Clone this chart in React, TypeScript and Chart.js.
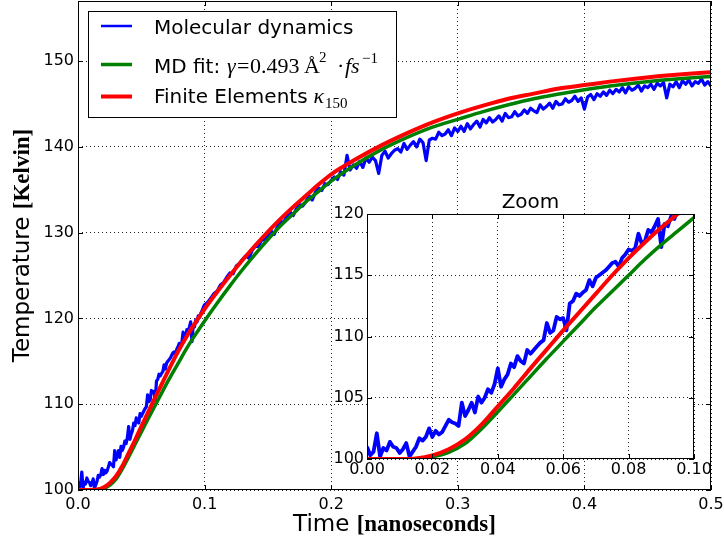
import { useEffect, useRef } from 'react';
import { Chart, registerables } from 'chart.js';
Chart.register(...registerables);

// ---------- data ----------
// MD samples: every 0.001 ns up to 0.1 ns, then every 0.0025 ns up to 0.5 ns
const MD_FINE_STEP = 0.001;
const MD_FINE_END = 0.1;
const MD_COARSE_STEP = 0.0025;
const MD_TEMPERATURE_FINE = [
  101.0, 100.3, 100.6, 102.1, 100.2, 100.9, 100.7, 101.4, 101.0, 100.9,
  100.5, 100.8, 101.3, 100.2, 100.6, 101.0, 101.7, 101.5, 101.8, 102.5,
  101.8, 102.3, 102.0, 102.2, 102.7, 103.2, 103.0, 102.9, 102.7, 104.6,
  103.5, 104.0, 104.6, 103.8, 105.1, 104.6, 105.0, 105.7, 105.4, 106.1,
  107.4, 105.9, 106.5, 106.9, 107.8, 107.5, 108.4, 108.0, 107.8, 108.9,
  108.6, 108.9, 109.2, 109.5, 109.7, 111.1, 110.3, 110.5, 111.6, 111.4,
  111.5, 110.5, 112.7, 112.9, 113.5, 113.3, 113.6, 113.8, 114.6, 114.1,
  114.8, 115.0, 115.2, 115.4, 115.7, 116.0, 116.1, 115.7, 116.4, 116.7,
  117.1, 117.0, 117.2, 118.4, 117.6, 117.8, 118.7, 118.5, 119.0, 119.6,
  117.3, 119.2, 119.0, 119.8, 119.6, 120.3, 120.1, 120.6, 120.9, 121.3,
  121.6,
];
const MD_TEMPERATURE_COARSE = [
  121.9, 122.4, 122.9, 123.2, 123.9, 124.2, 124.8, 125.3,
  125.2, 126.1, 126.4, 126.9, 127.3, 127.0, 127.9, 128.4,
  128.4, 129.1, 129.2, 129.7, 130.2, 129.8, 130.7, 131.3,
  131.2, 131.9, 132.4, 132.0, 132.8, 133.3, 133.1, 133.6,
  134.3, 133.8, 134.7, 135.2, 134.9, 135.7, 135.6, 136.1,
  136.5, 136.2, 137.1, 136.7, 139.0, 137.3, 137.9, 137.5,
  138.3, 137.6, 138.7, 138.2, 138.8, 138.4, 136.9, 139.0,
  139.5, 138.7, 139.2, 139.6, 139.8, 139.4, 140.4, 139.7,
  140.2, 140.6, 140.0, 140.9, 140.5, 138.4, 140.8, 141.0,
  140.9, 141.7, 141.3, 141.5, 142.0, 141.3, 142.2, 141.8,
  142.4, 141.8, 142.7, 142.1, 142.6, 143.0, 142.3, 143.2,
  142.8, 143.4, 142.9, 143.2, 143.6, 143.0, 143.9, 143.4,
  143.5, 144.1, 143.6, 143.8, 144.3, 143.9, 144.5, 144.2,
  144.0, 144.9, 144.4, 144.7, 145.1, 144.5, 145.3, 144.9,
  145.0, 145.6, 145.2, 145.4, 145.9, 145.3, 145.7, 144.4,
  145.8, 146.1, 145.5, 146.2, 145.9, 146.4, 146.0, 146.6,
  146.2, 146.7, 146.4, 146.9, 146.3, 147.0, 146.6, 146.8,
  147.2, 146.5, 147.1, 146.9, 147.3, 146.7, 147.4, 147.1,
  147.5, 145.7, 147.3, 147.0, 147.6, 146.9, 147.7, 147.3,
  147.8, 147.1, 147.6, 147.4, 147.9, 147.2, 147.6, 147.1,
];

const CURVE_TIME = [
  0, 0.005, 0.01, 0.015, 0.02, 0.025, 0.03, 0.035, 0.04, 0.045, 0.05,
  0.055, 0.06, 0.065, 0.07, 0.075, 0.08, 0.085, 0.09, 0.095, 0.1,
  0.11, 0.12, 0.13, 0.14, 0.15, 0.16, 0.17, 0.18, 0.19, 0.2,
  0.22, 0.24, 0.26, 0.28, 0.3, 0.32, 0.34, 0.36, 0.38, 0.4,
  0.42, 0.44, 0.46, 0.48, 0.5,
];
const FIT_TEMPERATURE = [
  100, 100, 100, 100.02, 100.18, 100.55, 101.25, 102.45, 103.85, 105.3, 106.75,
  108.2, 109.6, 111.0, 112.4, 113.7, 115.0, 116.3, 117.5, 118.6, 119.7,
  121.8, 123.8, 125.7, 127.5, 129.2, 130.8, 132.2, 133.6, 134.8, 136.0,
  138.0, 139.7, 141.1, 142.3, 143.2, 144.1, 144.9, 145.6, 146.15, 146.65,
  147.1, 147.45, 147.75, 148.0, 148.2,
];
const FE_TEMPERATURE = [
  100, 100, 100, 100.05, 100.3, 100.8, 101.6, 102.8, 104.3, 105.8, 107.4,
  108.95, 110.5, 112.0, 113.5, 115.0, 116.4, 117.7, 118.9, 120.0, 121.1,
  123.1, 125.0, 126.8, 128.5, 130.1, 131.6, 133.0, 134.3, 135.6, 136.8,
  138.6, 140.2, 141.6, 142.85, 143.9, 144.8, 145.6, 146.2, 146.8, 147.2,
  147.6, 147.95, 148.25, 148.5, 148.7,
];

const MAIN_X_TICKS = [0, 0.1, 0.2, 0.3, 0.4, 0.5];
const MAIN_X_LABELS = ['0.0', '0.1', '0.2', '0.3', '0.4', '0.5'];
const MAIN_Y_TICKS = [100, 110, 120, 130, 140, 150];
const MAIN_Y_LABELS = ['100', '110', '120', '130', '140', '150'];
const INSET_X_TICKS = [0, 0.02, 0.04, 0.06, 0.08, 0.1];
const INSET_X_LABELS = ['0.00', '0.02', '0.04', '0.06', '0.08', '0.10'];
const INSET_Y_TICKS = [100, 105, 110, 115, 120];
const INSET_Y_LABELS = ['100', '105', '110', '115', '120'];

const SERIES_NAMES = ['Molecular dynamics', 'MD fit', 'Finite Elements'];

// ---------- helpers ----------
const SANS = "'DejaVu Sans', sans-serif";
const SERIF = "'Liberation Serif', 'DejaVu Serif', serif";

const mdPoints = () => [
  ...MD_TEMPERATURE_FINE.map((v, i) => ({ x: i * MD_FINE_STEP, y: v })),
  ...MD_TEMPERATURE_COARSE.map((v, i) => ({ x: MD_FINE_END + (i + 1) * MD_COARSE_STEP, y: v })),
];
const curvePoints = (vals: number[]) => vals.map((v, i) => ({ x: CURVE_TIME[i], y: v }));

function makeDatasets(blueWidth: number) {
  return [
    {
      label: SERIES_NAMES[0],
      data: mdPoints(),
      borderColor: '#0000ff',
      borderWidth: blueWidth,
      pointRadius: 0,
      tension: 0,
      borderJoinStyle: 'round' as const,
      order: 3,
    },
    {
      label: SERIES_NAMES[1],
      data: curvePoints(FIT_TEMPERATURE),
      borderColor: '#008000',
      borderWidth: 3.5,
      pointRadius: 0,
      cubicInterpolationMode: 'monotone' as const,
      order: 2,
    },
    {
      label: SERIES_NAMES[2],
      data: curvePoints(FE_TEMPERATURE),
      borderColor: '#ff0000',
      borderWidth: 4,
      pointRadius: 0,
      cubicInterpolationMode: 'monotone' as const,
      order: 1,
    },
  ];
}

const frameTicksPlugin = (len: number) => ({
  id: 'frameTicks',
  afterDatasetsDraw(chart: any) {
    const { ctx, chartArea: a, scales } = chart;
    const x = scales.x;
    const y = scales.y;
    ctx.save();
    ctx.strokeStyle = '#000';
    ctx.lineWidth = 1;
    ctx.setLineDash([]);
    ctx.beginPath();
    x.ticks.forEach((t: any) => {
      const px = Math.round(x.getPixelForValue(t.value)) + 0.5;
      ctx.moveTo(px, a.bottom);
      ctx.lineTo(px, a.bottom - len);
      ctx.moveTo(px, a.top);
      ctx.lineTo(px, a.top + len);
    });
    y.ticks.forEach((t: any) => {
      const py = Math.round(y.getPixelForValue(t.value)) + 0.5;
      ctx.moveTo(a.left, py);
      ctx.lineTo(a.left + len, py);
      ctx.moveTo(a.right, py);
      ctx.lineTo(a.right - len, py);
    });
    ctx.stroke();
    ctx.strokeRect(a.left + 0.5, a.top + 0.5, a.right - a.left - 1, a.bottom - a.top - 1);
    ctx.restore();
  },
});

function scaleOptions(
  ticks: number[],
  labels: string[],
  min: number,
  max: number,
  size: number,
  isX: boolean,
  pad: number,
) {
  return {
    type: 'linear' as const,
    min,
    max,
    afterBuildTicks: (s: any) => {
      s.ticks = ticks.map((v) => ({ value: v }));
    },
    afterFit: (s: any) => {
      if (isX) s.height = size;
      else s.width = size;
      s.paddingLeft = 0;
      s.paddingRight = 0;
      s.paddingTop = 0;
      s.paddingBottom = 0;
    },
    ticks: {
      autoSkip: false,
      maxRotation: 0,
      padding: pad,
      color: '#000',
      font: { family: SANS, size: 16 },
      callback: (_v: any, i: number) => labels[i],
    },
    grid: {
      color: 'rgba(0,0,0,0.85)',
      lineWidth: 1,
      drawTicks: false,
    },
    border: { display: false, dash: [1, 3] },
  };
}

const mainDecorPlugin = {
  id: 'mainDecor',
  afterDraw(chart: any) {
    const { ctx, chartArea: a } = chart;
    ctx.save();
    ctx.fillStyle = '#000';
    ctx.textBaseline = 'alphabetic';
    ctx.textAlign = 'left';

    // x axis title
    const xt1 = 'Time ';
    const xt2 = '[nanoseconds]';
    ctx.font = `23px ${SANS}`;
    const w1 = ctx.measureText(xt1).width;
    ctx.font = `bold 23px ${SERIF}`;
    const w2 = ctx.measureText(xt2).width;
    const cx = (a.left + a.right) / 2;
    let sx = cx - (w1 + w2) / 2;
    ctx.font = `23px ${SANS}`;
    ctx.fillText(xt1, sx, 531);
    ctx.font = `bold 23px ${SERIF}`;
    ctx.fillText(xt2, sx + w1, 531);

    // y axis title
    const yt1 = 'Temperature ';
    const yt2 = '[Kelvin]';
    ctx.font = `23px ${SANS}`;
    const v1 = ctx.measureText(yt1).width;
    ctx.font = `bold 23px ${SERIF}`;
    const v2 = ctx.measureText(yt2).width;
    const cy = (a.top + a.bottom) / 2;
    ctx.save();
    ctx.translate(28.5, cy);
    ctx.rotate(-Math.PI / 2);
    sx = -(v1 + v2) / 2;
    ctx.font = `23px ${SANS}`;
    ctx.fillText(yt1, sx, 0);
    ctx.font = `bold 23px ${SERIF}`;
    ctx.fillText(yt2, sx + v1, 0);
    ctx.restore();

    // legend box
    ctx.fillStyle = '#fff';
    ctx.fillRect(88, 11, 308, 106);
    ctx.strokeStyle = '#000';
    ctx.lineWidth = 1;
    ctx.strokeRect(88.5, 11.5, 308, 106);
    const sample = (y: number, color: string, w: number) => {
      ctx.beginPath();
      ctx.strokeStyle = color;
      ctx.lineWidth = w;
      ctx.moveTo(101, y);
      ctx.lineTo(132, y);
      ctx.stroke();
    };
    sample(26, '#0000ff', 2.5);
    sample(64.5, '#008000', 3.5);
    sample(96.5, '#ff0000', 4);

    ctx.fillStyle = '#000';
    ctx.font = `20px ${SANS}`;
    ctx.fillText(SERIES_NAMES[0], 154, 34);

    // MD fit: gamma = 0.493 Å^2 · fs^-1
    const b2 = 72.5;
    ctx.font = `20px ${SANS}`;
    ctx.fillText(SERIES_NAMES[1] + ':', 154, b2);
    ctx.font = `italic 22px ${SERIF}`;
    ctx.fillText('\u03b3', 227, b2);
    ctx.font = `22px ${SERIF}`;
    ctx.fillText('=', 237, b2);
    ctx.fillText('0.493', 250, b2);
    ctx.fillText('\u00c5', 304, b2);
    ctx.font = `15px ${SERIF}`;
    ctx.fillText('2', 319, 62);
    ctx.font = `22px ${SERIF}`;
    ctx.fillText('\u00b7', 337, b2);
    ctx.font = `italic 22px ${SERIF}`;
    ctx.fillText('fs', 345, b2);
    ctx.font = `15px ${SERIF}`;
    ctx.fillText('\u22121', 362, 62.5);

    // Finite Elements kappa_150
    const b3 = 103.3;
    ctx.font = `20px ${SANS}`;
    ctx.fillText(SERIES_NAMES[2], 154, b3);
    const endFE = 154 + ctx.measureText(SERIES_NAMES[2]).width;
    const kx = Math.max(310, endFE + 6);
    ctx.font = `italic 22px ${SERIF}`;
    ctx.fillText('\u03ba', kx, b3);
    const kw = ctx.measureText('\u03ba').width;
    ctx.font = `15px ${SERIF}`;
    ctx.fillText('150', kx + kw + 1, 108);
    ctx.restore();
  },
};

const insetDecorPlugin = {
  id: 'insetDecor',
  beforeDraw(chart: any) {
    const { ctx, chartArea: a } = chart;
    ctx.save();
    ctx.fillStyle = '#fff';
    ctx.fillRect(a.left, a.top, a.right - a.left, a.bottom - a.top);
    ctx.restore();
  },
  afterDraw(chart: any) {
    const { ctx, chartArea: a } = chart;
    ctx.save();
    ctx.fillStyle = '#000';
    ctx.font = `20px ${SANS}`;
    ctx.textAlign = 'center';
    ctx.textBaseline = 'alphabetic';
    ctx.fillText('Zoom', (a.left + a.right) / 2, a.top - 6);
    ctx.restore();
  },
};

export default function App() {
  const mainRef = useRef<HTMLCanvasElement>(null);
  const insetRef = useRef<HTMLCanvasElement>(null);

  useEffect(() => {
    const main = new Chart(mainRef.current!, {
      type: 'line',
      data: { datasets: makeDatasets(3.2) as any },
      options: {
        animation: false,
        responsive: false,
        devicePixelRatio: 1,
        layout: { padding: { left: 0, top: 1, right: 13, bottom: 0 } },
        plugins: { legend: { display: false }, tooltip: { enabled: false }, title: { display: false } },
        scales: {
          x: scaleOptions(MAIN_X_TICKS, MAIN_X_LABELS, 0, 0.5, 52, true, 5) as any,
          y: scaleOptions(MAIN_Y_TICKS, MAIN_Y_LABELS, 100, 157, 78, false, 4) as any,
        },
      },
      plugins: [frameTicksPlugin(5), mainDecorPlugin],
    });

    const inset = new Chart(insetRef.current!, {
      type: 'line',
      data: { datasets: makeDatasets(3.8) as any },
      options: {
        animation: false,
        responsive: false,
        devicePixelRatio: 1,
        layout: { padding: { left: 0, top: 34, right: 26, bottom: 0 } },
        plugins: { legend: { display: false }, tooltip: { enabled: false }, title: { display: false } },
        scales: {
          x: scaleOptions(INSET_X_TICKS, INSET_X_LABELS, 0, 0.1, 31, true, 1) as any,
          y: scaleOptions(INSET_Y_TICKS, INSET_Y_LABELS, 100, 120, 67, false, 3) as any,
        },
      },
      plugins: [insetDecorPlugin, frameTicksPlugin(5)],
    });

    return () => {
      main.destroy();
      inset.destroy();
    };
  }, []);

  return (
    <div style={{ position: 'fixed', left: 0, top: 0, width: 724, height: 542, background: '#fff' }}>
      <canvas ref={mainRef} width={724} height={542} style={{ position: 'absolute', left: 0, top: 0 }} />
      <canvas ref={insetRef} width={420} height={310} style={{ position: 'absolute', left: 300, top: 180 }} />
    </div>
  );
}
